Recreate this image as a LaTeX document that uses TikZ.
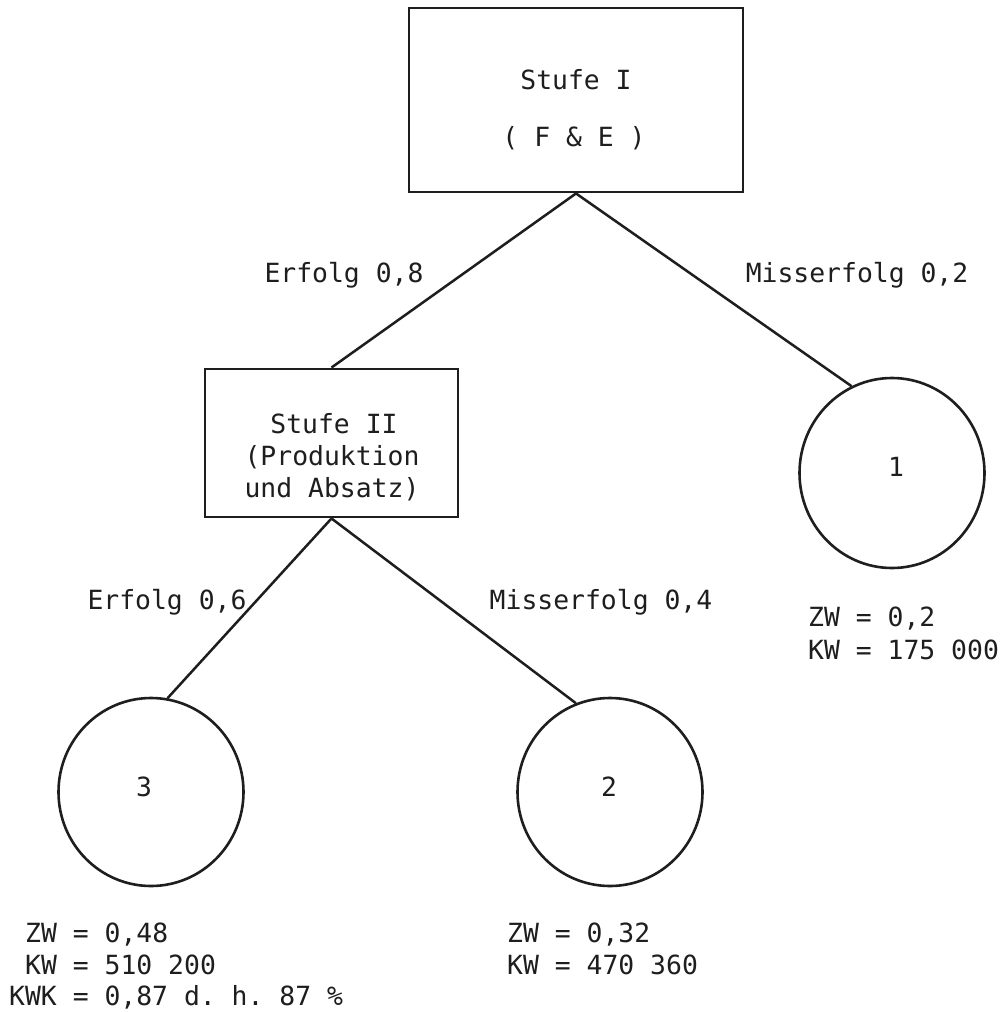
\documentclass[tikz,border=0pt]{standalone}
\usepackage{fontspec}
\usetikzlibrary{shapes.geometric}
\newfontfamily\typefont{DejaVu Sans Mono}
\definecolor{ink}{HTML}{1E1E1E}
\frenchspacing
\begin{document}
\begin{tikzpicture}[x=1pt,y=-1pt,
  stagebox/.style={draw=ink,line width=2.9pt,rectangle,inner sep=0pt},
  outcome/.style={draw=ink,line width=2.6pt,ellipse,inner sep=0pt,minimum width=185pt,minimum height=188pt},
  branch/.style={draw=ink,line width=2.5pt},
  txt/.style={font=\typefont\fontsize{26.4}{32}\selectfont,inner sep=0pt,text=ink}]
\useasboundingbox[fill=white] (0,0) rectangle (1002,1012);

% decision stages
\node[stagebox,minimum width=334pt,minimum height=184pt] (s1) at (576,100) {};
\node[txt,anchor=base] (s1a) at (576,89.5) {Stufe I};
\node[txt,anchor=base] (s1b) at (574,146.5) {( F \& E )};

\node[stagebox,minimum width=253pt,minimum height=148pt] (s2) at (331.5,443) {};
\node[txt,anchor=base] (s2a) at (334,433.5) {Stufe II};
\node[txt,anchor=base] (s2b) at (332,465.5) {(Produktion};
\node[txt,anchor=base] (s2c) at (332,497.5) {und Absatz)};

% end states
\node[outcome,minimum height=190pt] (c1) at (892,473) {};
\node[txt,anchor=base] (c1t) at (896,476.5) {1};
\node[outcome] (c3) at (151,792) {};
\node[txt,anchor=base] (c3t) at (144,796.5) {3};
\node[outcome] (c2) at (610,792) {};
\node[txt,anchor=base] (c2t) at (609,796.5) {2};

% branches
\draw[branch] (s1.south) -- (s2.north);
\draw[branch] (s1.south) -- (c1.115);
\draw[branch] (s2.south) -- (c3.80);
\draw[branch] (s2.south) -- (c2.111);

% branch probabilities
\node[txt,anchor=base] (p1) at (344,282.5) {Erfolg 0,8};
\node[txt,anchor=base] (p2) at (857,282.5) {Misserfolg 0,2};
\node[txt,anchor=base] (p3) at (167,609.5) {Erfolg 0,6};
\node[txt,anchor=base] (p4) at (601,609.5) {Misserfolg 0,4};

% results per end state
\node[txt,anchor=base west] (r1a) at (808,626.5) {ZW = 0,2};
\node[txt,anchor=base west] (r1b) at (808,659.5) {KW = 175 000};

\node[txt,anchor=base west] (r3a) at (25,942) {ZW = 0,48};
\node[txt,anchor=base west] (r3b) at (25,974) {KW = 510 200};
\node[txt,anchor=base west] (r3c) at (9,1005) {KWK = 0,87 d. h. 87 \%};

\node[txt,anchor=base west] (r2a) at (507,942) {ZW = 0,32};
\node[txt,anchor=base west] (r2b) at (507,974) {KW = 470 360};
\end{tikzpicture}
\end{document}
